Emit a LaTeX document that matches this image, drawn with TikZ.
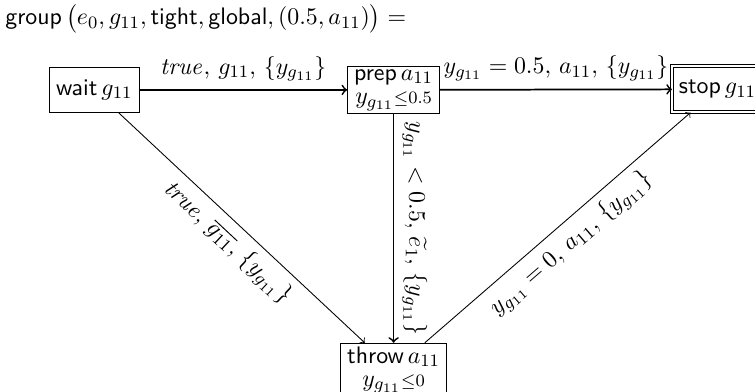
\documentclass[tikz,border=0pt]{standalone}
\usepackage{amsmath}
\usepackage{tikz}
\tikzstyle{location} = [rectangle, draw=black, font=\sffamily, align=center, inner sep=3pt, minimum height=0.72cm]
\tikzstyle{invariant} = [location, inner ysep=1.5pt]
\tikzstyle{final} = [location, double, double distance=1pt, minimum height=0.74cm]
\tikzstyle{strong} = [->, thick]
\tikzstyle{weak} = [->]

\begin{document}
\fontsize{10.95}{13.6}\selectfont
\begin{tikzpicture}
    \useasboundingbox (0,0) rectangle (12.18,-6.31);
    \node [anchor=base west, font=\sffamily, inner sep=0pt] (title) at (0.08,-0.40) {group\,$\bigl(e_0, g_{11}, \text{tight}, \text{global}, (0.5, a_{11})\bigr) =$};

    \node [location] (wait) at (1.52,-1.45) {wait\,$g_{11}$};
    \node [invariant] (prep) at (6.35,-1.45) {prep\,$a_{11}$\\[-3pt] $y_{g_{11}}{\scriptstyle\leq 0.5}$};
    \node [final, anchor=west] (stop) at (10.84,-1.44) {stop\,$g_{11}$};
    \node [invariant, anchor=north] (throw) at (6.35,-5.53) {throw\,$a_{11}$\\[-3pt] $y_{g_{11}}{\scriptstyle\leq 0}$};

    \draw [strong] (wait) -- node [above] {$\mathit{true},\, g_{11},\, \{y_{g_{11}}\}$} (prep);
    \draw [strong] (prep) -- node [above] {$y_{g_{11}} = 0.5,\, a_{11},\, \{y_{g_{11}}\}$} (stop);
    \draw [strong] (prep) -- node [above, sloped] {$y_{g_{11}} < 0.5,\, \widetilde{e}_1,\, \{y_{g_{11}}\}$} (throw);
    \draw [weak] (wait) -- node [below, sloped] {$\mathit{true},\, \overline{g_{11}},\, \{y_{g_{11}}\}$} (throw);
    \draw [weak] (throw) -- node [below, sloped] {$y_{g_{11}} = 0,\, a_{11},\, \{y_{g_{11}}\}$} (stop);
\end{tikzpicture}
\end{document}
